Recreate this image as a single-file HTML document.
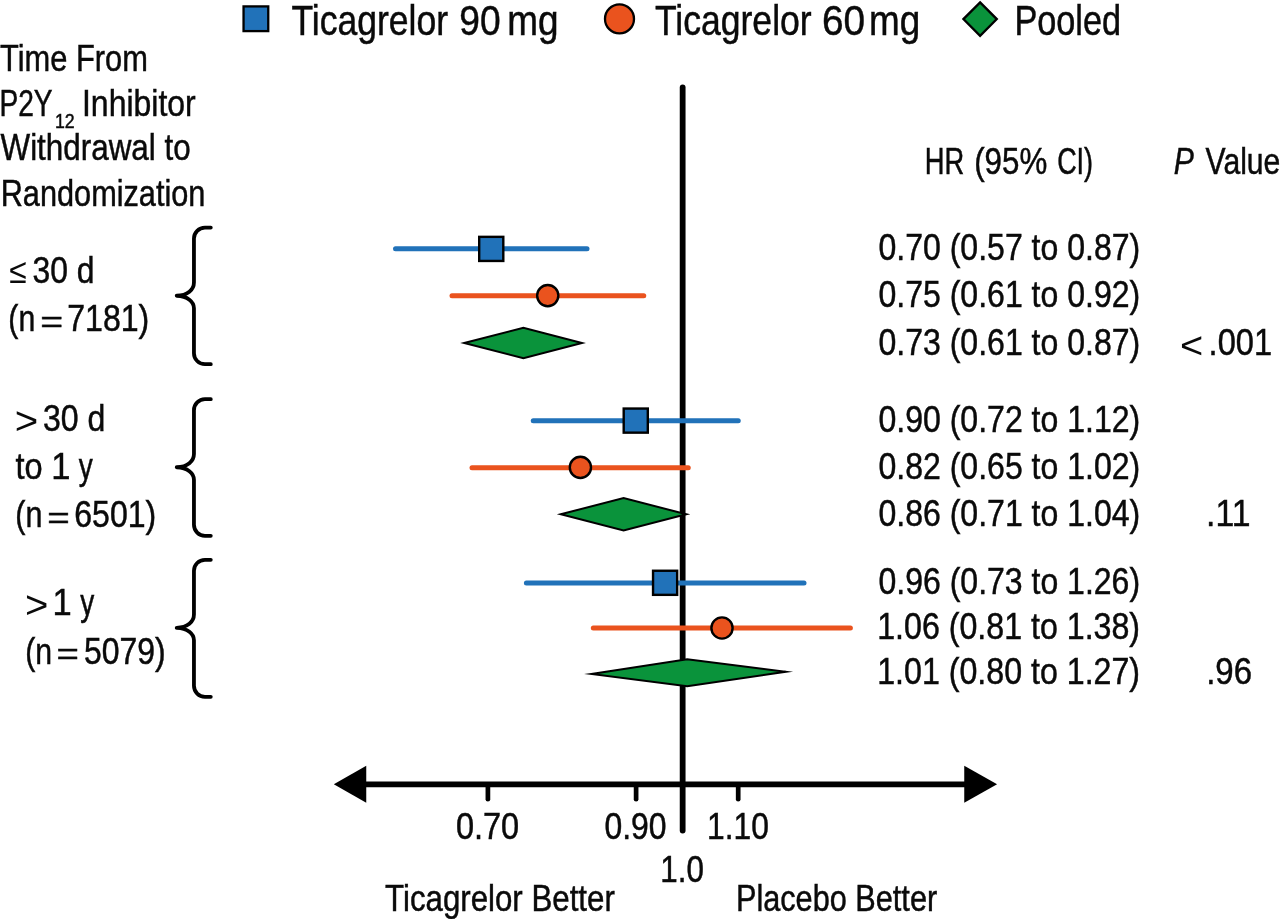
<!DOCTYPE html>
<html lang="en">
<head>
<meta charset="utf-8">
<title>Forest plot: Ticagrelor vs placebo by time from P2Y12 inhibitor withdrawal</title>
<style>
html,body{margin:0;padding:0;background:#fff;}
body{width:1280px;height:919px;overflow:hidden;}
svg{display:block;font-family:"Liberation Sans",sans-serif;}
svg text{fill:#0a0a0a;white-space:pre;vector-effect:non-scaling-stroke;}
</style>
</head>
<body>
<svg width="1280" height="919" viewBox="0 0 1280 919">
<rect width="1280" height="919" fill="#fff"/>
<g id="shapes">
<rect x="243.55" y="6.4" width="24.7" height="24.7" fill="#2172b9" stroke="#000" stroke-width="2.3"/>
<circle cx="619.5" cy="18.9" r="14.5" fill="#ea531e" stroke="#000" stroke-width="2.3"/>
<path d="M980.1 2.4 L996.8 19.1 L980.1 35.8 L963.4 19.1 Z" fill="#0a933b" stroke="#000" stroke-width="2.3" stroke-linejoin="miter"/>
<path d="M210.8 227.6 H204.95 A11 11 0 0 0 193.95 238.6 V282.45 C193.95 289.65 187.5 295.45 176.7 295.75 C187.5 296.15 193.95 301.65 193.95 308.25 V353.2 A11 11 0 0 0 204.95 364.2 H210.8" fill="none" stroke="#000" stroke-width="3.8" stroke-linecap="round" stroke-linejoin="round"/>
<path d="M210.8 399.2 H204.95 A11 11 0 0 0 193.95 410.2 V453.95 C193.95 461.15 187.5 466.95 176.7 467.25 C187.5 467.65 193.95 473.15 193.95 479.75 V524.8 A11 11 0 0 0 204.95 535.8 H210.8" fill="none" stroke="#000" stroke-width="3.8" stroke-linecap="round" stroke-linejoin="round"/>
<path d="M210.8 559.8 H204.95 A11 11 0 0 0 193.95 570.8 V614.55 C193.95 621.75 187.5 627.55 176.7 627.85 C187.5 628.25 193.95 633.75 193.95 640.35 V685.8 A11 11 0 0 0 204.95 696.8 H210.8" fill="none" stroke="#000" stroke-width="3.8" stroke-linecap="round" stroke-linejoin="round"/>
<line x1="682.65" y1="87.5" x2="682.65" y2="830.6" stroke="#000" stroke-width="5.8" stroke-linecap="round"/>
<line x1="360" y1="784.3" x2="970" y2="784.3" stroke="#000" stroke-width="5.8"/>
<path d="M333.8 784.25 L366.25 765.75 L366.25 802.75 Z" fill="#000"/>
<path d="M997.1 784.25 L964.25 765.75 L964.25 802.75 Z" fill="#000"/>
<line x1="487.9" y1="786" x2="487.9" y2="799.2" stroke="#000" stroke-width="4.7" stroke-linecap="round"/>
<line x1="636.1" y1="786" x2="636.1" y2="799.2" stroke="#000" stroke-width="4.7" stroke-linecap="round"/>
<line x1="738.2" y1="786" x2="738.2" y2="799.2" stroke="#000" stroke-width="4.7" stroke-linecap="round"/>
<line x1="395.5" y1="248.8" x2="587.0" y2="248.8" stroke="#2172b9" stroke-width="5" stroke-linecap="round"/>
<rect x="479.20" y="236.85" width="24.1" height="24.1" fill="#2172b9" stroke="#000" stroke-width="2.4"/>
<line x1="452.0" y1="295.7" x2="643.75" y2="295.7" stroke="#ea531e" stroke-width="5" stroke-linecap="round"/>
<circle cx="547.75" cy="295.6" r="10.6" fill="#ea531e" stroke="#000" stroke-width="2.4"/>
<path d="M464.19 343.00 L523.40 327.73 L582.01 343.00 L523.40 358.27 Z" fill="#0a933b" stroke="#000" stroke-width="2.0" stroke-linejoin="miter" stroke-miterlimit="12"/>
<line x1="533.25" y1="420.7" x2="738.25" y2="420.7" stroke="#2172b9" stroke-width="5" stroke-linecap="round"/>
<rect x="623.70" y="408.55" width="24.1" height="24.1" fill="#2172b9" stroke="#000" stroke-width="2.4"/>
<line x1="472.0" y1="467.7" x2="688.25" y2="467.7" stroke="#ea531e" stroke-width="5" stroke-linecap="round"/>
<circle cx="580.4" cy="467.4" r="10.6" fill="#ea531e" stroke="#000" stroke-width="2.4"/>
<path d="M560.79 514.30 L623.60 497.93 L686.31 514.30 L623.60 530.47 Z" fill="#0a933b" stroke="#000" stroke-width="2.0" stroke-linejoin="miter" stroke-miterlimit="12"/>
<line x1="526.4" y1="582.9" x2="804.0" y2="582.9" stroke="#2172b9" stroke-width="5" stroke-linecap="round"/>
<rect x="653.05" y="570.75" width="24.1" height="24.1" fill="#2172b9" stroke="#000" stroke-width="2.4"/>
<line x1="593.3" y1="627.9" x2="850.4" y2="627.9" stroke="#ea531e" stroke-width="5" stroke-linecap="round"/>
<circle cx="722" cy="628" r="10.6" fill="#ea531e" stroke="#000" stroke-width="2.4"/>
<path d="M591.31 674.00 L687.20 659.31 L785.69 671.80 L687.20 686.14 Z" fill="#0a933b" stroke="#000" stroke-width="2.0" stroke-linejoin="miter" stroke-miterlimit="12"/>
</g>
<g id="labels" stroke="#0a0a0a" stroke-width="0.45">
<text transform="translate(291.38 34.50) scale(0.8426 1)" font-size="42.2">Ticagrelor</text>
<text transform="translate(459.37 34.50) scale(0.8798 1)" font-size="42.2">90</text>
<text transform="translate(507.22 34.50) scale(0.8755 1)" font-size="42.2">mg</text>
<text transform="translate(654.88 34.50) scale(0.8429 1)" font-size="42.2">Ticagrelor</text>
<text transform="translate(821.91 34.50) scale(0.9198 1)" font-size="42.2">60</text>
<text transform="translate(869.07 34.50) scale(0.8736 1)" font-size="42.2">mg</text>
<text transform="translate(1014.38 34.50) scale(0.8124 1)" font-size="42.2">Pooled</text>
<text transform="translate(0.09 71.00) scale(0.8470 1)" font-size="36.4">Time From</text>
<text transform="translate(-0.59 115.50) scale(0.7730 1)" font-size="36.4">P2Y</text>
<text transform="translate(54.93 127.60) scale(0.8667 1)" font-size="20.5">12</text>
<text transform="translate(81.97 115.50) scale(0.8783 1)" font-size="36.4">Inhibitor</text>
<text transform="translate(0.51 160.00) scale(0.8629 1)" font-size="36.4">Withdrawal to</text>
<text transform="translate(0.69 205.60) scale(0.8436 1)" font-size="36.4">Randomization</text>
<text transform="translate(9.23 283.30) scale(0.8732 0.9609)" font-size="36.4" stroke="none">≤</text>
<text transform="translate(32.51 283.30) scale(0.8754 1)" font-size="36.4">30 d</text>
<text transform="translate(8.36 331.30) scale(0.8306 1)" font-size="36.4">(n</text>
<text transform="translate(40.27 332.05) scale(1.0761 0.8000)" font-size="36.4" stroke-width="0.5">=</text>
<text transform="translate(67.18 331.30) scale(0.8826 1)" font-size="36.4">7181)</text>
<text transform="translate(14.67 433.84) scale(1.1042 1.0685)" font-size="36.4" stroke="none">&gt;</text>
<text transform="translate(43.01 430.90) scale(0.8799 1)" font-size="36.4">30 d</text>
<text transform="translate(15.38 478.90) scale(0.8938 1)" font-size="36.4">to</text>
<text transform="translate(51.21 478.90) scale(0.9492 1)" font-size="36.4">1</text>
<text transform="translate(78.73 478.90) scale(0.7690 1)" font-size="36.4">y</text>
<text transform="translate(15.24 526.90) scale(0.8378 1)" font-size="36.4">(n</text>
<text transform="translate(47.20 527.65) scale(1.0592 0.8000)" font-size="36.4" stroke-width="0.5">=</text>
<text transform="translate(74.28 526.90) scale(0.8803 1)" font-size="36.4">6501)</text>
<text transform="translate(24.88 618.39) scale(1.0986 1.0521)" font-size="36.4" stroke="none">&gt;</text>
<text transform="translate(52.41 615.40) scale(0.9492 1)" font-size="36.4">1</text>
<text transform="translate(80.33 615.40) scale(0.7690 1)" font-size="36.4">y</text>
<text transform="translate(25.26 663.50) scale(0.8306 1)" font-size="36.4">(n</text>
<text transform="translate(56.51 664.25) scale(1.0535 0.8000)" font-size="36.4" stroke-width="0.5">=</text>
<text transform="translate(83.91 663.50) scale(0.8773 1)" font-size="36.4">5079)</text>
<text transform="translate(924.87 174.30) scale(0.7508 1)" font-size="36.4">HR</text>
<text transform="translate(974.19 174.30) scale(0.8595 1)" font-size="36.4">(95%</text>
<text transform="translate(1057.13 174.30) scale(0.7404 1)" font-size="36.4">CI)</text>
<text transform="translate(1173.69 174.30) scale(0.8264 1)" font-size="36.4" font-style="italic">P</text>
<text transform="translate(1205.52 174.30) scale(0.8277 1)" font-size="36.4">Value</text>
<text transform="translate(878.50 260.30) scale(0.8802 1)" font-size="36.4">0.70 (0.57 to 0.87)</text>
<text transform="translate(878.50 307.30) scale(0.8802 1)" font-size="36.4">0.75 (0.61 to 0.92)</text>
<text transform="translate(878.50 354.60) scale(0.8802 1)" font-size="36.4">0.73 (0.61 to 0.87)</text>
<text transform="translate(1180.09 357.55) scale(1.0930 1.0378)" font-size="36.4" stroke="none">&lt;</text>
<text transform="translate(1208.62 354.60) scale(0.8951 1)" font-size="36.4">.001</text>
<text transform="translate(878.50 432.20) scale(0.8802 1)" font-size="36.4">0.90 (0.72 to 1.12)</text>
<text transform="translate(878.50 479.20) scale(0.8802 1)" font-size="36.4">0.82 (0.65 to 1.02)</text>
<text transform="translate(878.50 526.00) scale(0.8802 1)" font-size="36.4">0.86 (0.71 to 1.04)</text>
<text transform="translate(1206.11 526.00) scale(0.9275 1)" font-size="36.4">.11</text>
<text transform="translate(878.51 594.20) scale(0.8796 1)" font-size="36.4">0.96 (0.73 to 1.26)</text>
<text transform="translate(877.19 639.30) scale(0.8840 1)" font-size="36.4">1.06 (0.81 to 1.38)</text>
<text transform="translate(877.19 684.40) scale(0.8840 1)" font-size="36.4">1.01 (0.80 to 1.27)</text>
<text transform="translate(1206.18 684.40) scale(0.9060 1)" font-size="36.4">.96</text>
<text transform="translate(455.88 839.25) scale(0.8941 1)" font-size="36.4">0.70</text>
<text transform="translate(604.41 839.25) scale(0.8757 1)" font-size="36.4">0.90</text>
<text transform="translate(707.07 839.25) scale(0.8734 1)" font-size="36.4">1.10</text>
<text transform="translate(660.36 882.00) scale(0.8613 1)" font-size="36.4">1.0</text>
<text transform="translate(385.08 911.25) scale(0.8584 1)" font-size="36.4">Ticagrelor Better</text>
<text transform="translate(735.95 911.25) scale(0.8428 1)" font-size="36.4">Placebo Better</text>
</g>
</svg>
</body>
</html>
